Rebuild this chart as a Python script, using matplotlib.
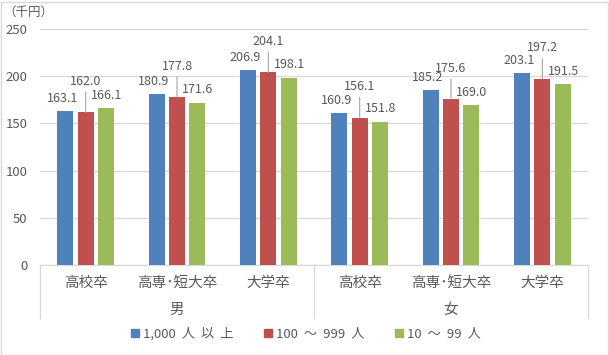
import matplotlib
matplotlib.use("Agg")
import matplotlib.pyplot as plt
import numpy as np
from matplotlib.patches import Rectangle, Patch

plt.rcParams["font.family"] = ["Noto Sans CJK JP", "DejaVu Sans"]

TEXT = "#595959"
GRID = "#D9D9D9"
COLORS = ["#4F81BD", "#C0504D", "#9BBB59"]

groups = ["男", "女"]
schools = ["高校卒", "高専･短大卒", "大学卒"]
series_names = ["1,000  人  以  上", "100  ～  999  人", "10  ～  99  人"]
large = [163.1, 180.9, 206.9, 160.9, 185.2, 203.1]
medium = [162.0, 177.8, 204.1, 156.1, 175.6, 197.2]
small = [166.1, 171.6, 198.1, 151.8, 169.0, 191.5]
y_ticks = [0, 50, 100, 150, 200, 250]

W, H = 609, 355
fig = plt.figure(figsize=(W / 100, H / 100), dpi=100)
ax = fig.add_axes([40 / W, (H - 265) / H, 548 / W, (265 - 29) / H])

x = np.arange(len(large))
bw = 0.175
step = 0.222
# label offsets in points (dx, dy) for each series
offsets = [(-2, 9.0), (0, 22.3), (0.5, 9.4)]
for i, vals in enumerate([large, medium, small]):
    xs = x + (i - 1) * step
    ax.bar(xs, vals, width=bw, color=COLORS[i], zorder=3)
    for xv, v in zip(xs, vals):
        dx, dy = offsets[i]
        if i == 1:
            ax.annotate(f"{v:.1f}", xy=(xv, v), xytext=(dx, dy),
                        textcoords="offset points", ha="center", va="center",
                        fontsize=9, color=TEXT,
                        arrowprops=dict(arrowstyle="-", color="#A6A6A6", lw=0.8,
                                        shrinkA=1, shrinkB=0))
        else:
            ax.annotate(f"{v:.1f}", xy=(xv, v), xytext=(dx, dy),
                        textcoords="offset points", ha="center", va="center",
                        fontsize=9, color=TEXT)

ax.set_xlim(-0.5, len(large) - 0.5)
ax.set_ylim(0, 250)
ax.set_yticks(y_ticks)
ax.yaxis.grid(True, color=GRID, lw=0.9, zorder=0)
ax.tick_params(axis="y", length=0, labelsize=9.5, labelcolor=TEXT, pad=9)
ax.set_xticks([])
for s in ["top", "right", "left"]:
    ax.spines[s].set_visible(False)
ax.spines["bottom"].set_color(GRID)
ax.spines["bottom"].set_linewidth(0.9)

# multi-level category labels
tr = ax.get_xaxis_transform()
for g, gname in enumerate(groups):
    for s, sname in enumerate(schools):
        ax.text(g * 3 + s, -0.076, sname, transform=tr, ha="center", va="center",
                fontsize=10.5, color=TEXT)
    ax.text(g * 3 + 1, -0.19, gname, transform=tr, ha="center", va="center",
            fontsize=10.5, color=TEXT)
for xv in [-0.5, 2.5, 5.5]:
    ax.plot([xv, xv], [0, -0.225], transform=tr, color=GRID, lw=0.9, clip_on=False)

fig.text(3 / W, 1 - 12 / H, "（千円）", ha="left", va="center", fontsize=9, color=TEXT)

handles = [Patch(color=c) for c in COLORS]
fig.legend(handles, series_names, loc="center", bbox_to_anchor=(306 / W, 1 - 334 / H),
           ncol=3, frameon=False, fontsize=9.5, labelcolor=TEXT,
           handlelength=0.6, handleheight=0.6, handletextpad=0.3, columnspacing=2.3)

fig.patches.append(Rectangle((0.5 / W, 0.5 / H), 1 - 2 / W, 1 - 2 / H,
                             transform=fig.transFigure, fill=False, edgecolor=GRID, lw=1))

fig.savefig("out.png", dpi=100)
